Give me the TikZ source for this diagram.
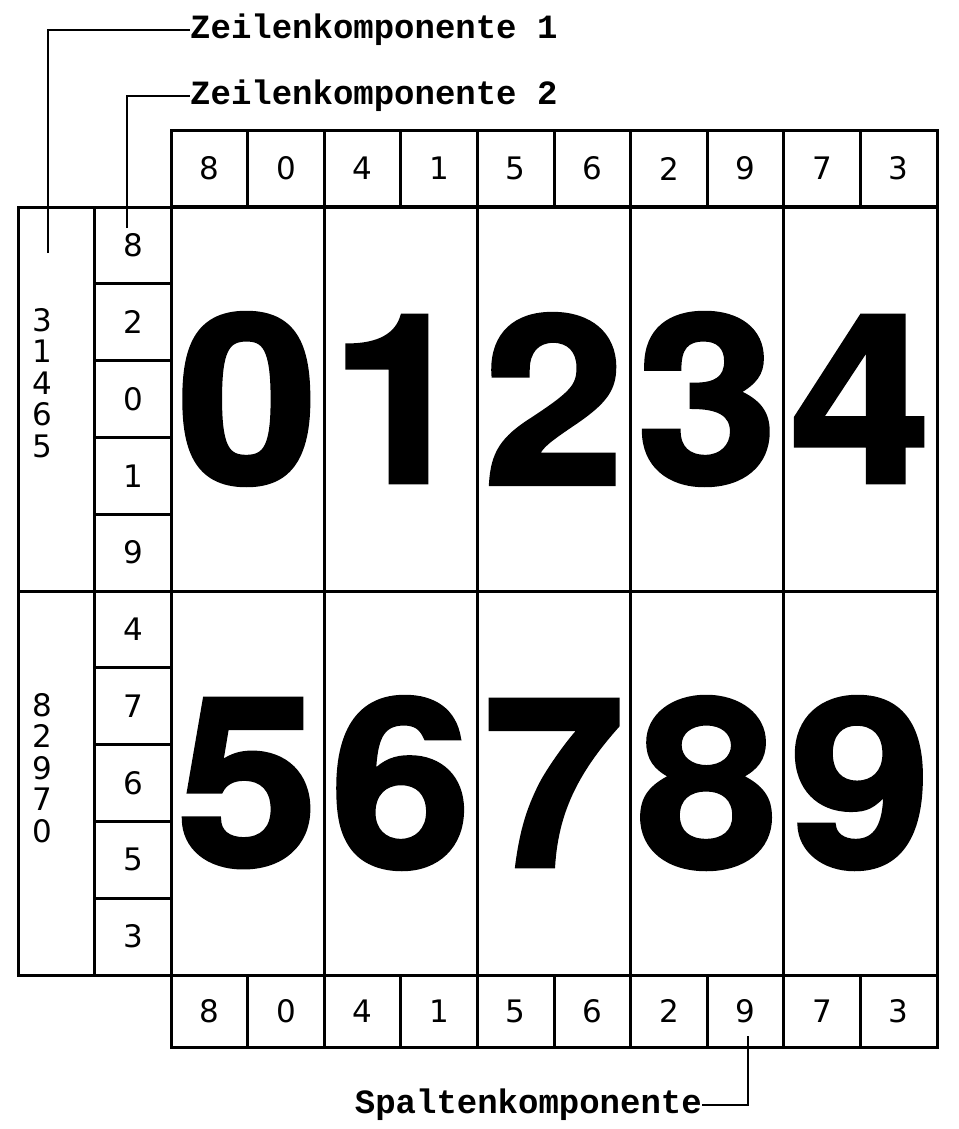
\documentclass[tikz,border=0pt]{standalone}
\usepackage{fontspec}
\setmonofont{Liberation Mono}
\newfontfamily\bigdigits{TeX Gyre Heros}[FakeStretch=1.08,FakeBold=1.8]
\newfontfamily\smalldigits{DejaVu Sans}
\usetikzlibrary{positioning}
\tikzset{
    cellbox/.style = {rectangle, line width=3pt, draw=black, inner sep=0pt, minimum width=76.6pt, minimum height=76.8pt, font=\smalldigits\fontsize{31}{31}\selectfont},
    cellboxb/.style = {cellbox, minimum height=72pt},
    rowbox/.style = {rectangle, line width=3pt, draw=black, inner sep=0pt, minimum width=76.6pt, minimum height=384pt},
    bigbox/.style = {rectangle, line width=3pt, draw=black, inner sep=0pt, minimum width=153.2pt, minimum height=384pt, font=\bigdigits\bfseries\fontsize{235}{235}\selectfont},
    stack/.style = {align=center, inner sep=0pt, font=\smalldigits\fontsize{31}{31.5}\selectfont},
    lbl/.style = {inner sep=0pt, font=\ttfamily\bfseries\fontsize{34}{34}\selectfont},
    leader/.style = {-, line width=2pt, black}
}
\begin{document}
\begin{tikzpicture}[x=1pt,y=-1pt]
\useasboundingbox (0,0) rectangle (958,1129);

% top row
\node[cellbox] at (209.3, 168.5) (top0) {8};
\node[cellbox] at (285.9, 168.5) (top1) {0};
\node[cellbox] at (362.5, 168.5) (top2) {4};
\node[cellbox] at (439.1, 168.5) (top3) {1};
\node[cellbox] at (515.7, 168.5) (top4) {5};
\node[cellbox] at (592.3, 168.5) (top5) {6};
\node[cellbox] at (668.9, 168.5) (top6) {2};
\node[cellbox] at (745.5, 168.5) (top7) {9};
\node[cellbox] at (822.1, 168.5) (top8) {7};
\node[cellbox] at (898.7, 168.5) (top9) {3};

% big digits
\node[bigbox] at (247.6, 399) (big0) {0};
\node[bigbox] at (400.8, 399) (big1) {1};
\node[bigbox] at (554.0, 399) (big2) {2};
\node[bigbox] at (707.2, 399) (big3) {3};
\node[bigbox] at (860.4, 399) (big4) {4};
\node[bigbox] at (247.6, 783) (big5) {5};
\node[bigbox] at (400.8, 783) (big6) {6};
\node[bigbox] at (554.0, 783) (big7) {7};
\node[bigbox] at (707.2, 783) (big8) {8};
\node[bigbox] at (860.4, 783) (big9) {9};

% row component 2
\node[cellbox] at (132.9, 245.4) (rc0) {8};
\node[cellbox] at (132.9, 322.2) (rc1) {2};
\node[cellbox] at (132.9, 399.0) (rc2) {0};
\node[cellbox] at (132.9, 475.8) (rc3) {1};
\node[cellbox] at (132.9, 552.6) (rc4) {9};
\node[cellbox] at (132.9, 629.4) (rc5) {4};
\node[cellbox] at (132.9, 706.2) (rc6) {7};
\node[cellbox] at (132.9, 783.0) (rc7) {6};
\node[cellbox] at (132.9, 859.8) (rc8) {5};
\node[cellbox] at (132.9, 936.6) (rc9) {3};

% row component 1
\node[rowbox] at (56.3, 399) (rz0) {};
\node[rowbox] at (56.3, 783) (rz1) {};
\node[stack] at (42, 383) (rzt0) {3\\1\\4\\6\\5};
\node[stack] at (42, 768) (rzt1) {8\\2\\9\\7\\0};

% bottom row
\node[cellboxb] at (209.3, 1011) (bot0) {8};
\node[cellboxb] at (285.9, 1011) (bot1) {0};
\node[cellboxb] at (362.5, 1011) (bot2) {4};
\node[cellboxb] at (439.1, 1011) (bot3) {1};
\node[cellboxb] at (515.7, 1011) (bot4) {5};
\node[cellboxb] at (592.3, 1011) (bot5) {6};
\node[cellboxb] at (668.9, 1011) (bot6) {2};
\node[cellboxb] at (745.5, 1011) (bot7) {9};
\node[cellboxb] at (822.1, 1011) (bot8) {7};
\node[cellboxb] at (898.7, 1011) (bot9) {3};

% labels
\node[lbl, anchor=west] at (190, 30) (zk1) {Zeilenkomponente 1};
\node[lbl, anchor=west] at (190, 96) (zk2) {Zeilenkomponente 2};
\node[lbl, anchor=east] at (702, 1105) (spk) {Spaltenkomponente};
\coordinate (zk1end) at (48, 253);
\coordinate (zk2end) at (127, 228);
\coordinate (spkend) at (748, 1036);

\draw[leader] (zk1end) |- (zk1.west);
\draw[leader] (zk2end) |- (zk2.west);
\draw[leader] (spkend) |- (spk.east);
\end{tikzpicture}
\end{document}
